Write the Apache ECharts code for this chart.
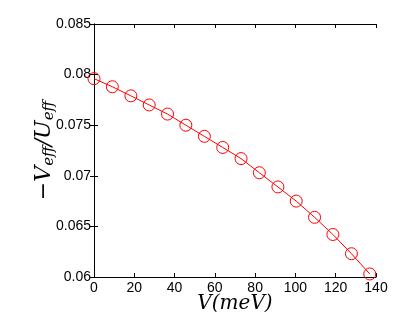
<!DOCTYPE html>
<html><head><meta charset="utf-8">
<script src="https://cdn.jsdelivr.net/npm/echarts@6/dist/echarts.min.js"></script>
<style>html,body{margin:0;padding:0;background:#fff}#c{width:415px;height:312px}</style>
</head><body><div id="c"></div>
<script>
const energies = [0, 9.1, 18.3, 27.4, 36.5, 45.6, 54.8, 63.9, 73.0, 82.1, 91.3, 100.4, 109.5, 118.6, 127.8, 136.9];
const ratios = [0.0796, 0.0788, 0.0779, 0.0770, 0.0761, 0.0750, 0.0739, 0.0728, 0.0717, 0.0703, 0.0689, 0.0675, 0.0659, 0.0642, 0.0623, 0.0603];
const xTicks = [0, 20, 40, 60, 80, 100, 120, 140];
const yTicks = [0.06, 0.065, 0.07, 0.075, 0.08, 0.085];

const chart = echarts.init(document.getElementById('c'), null, {renderer: 'canvas'});
const lab = {color: '#000', fontFamily: 'Liberation Sans, Arial, sans-serif', fontSize: 14};
const axLine = {show: true, lineStyle: {color: '#000', width: 1}};
const tick = {show: true, inside: true, length: 4, lineStyle: {color: '#000', width: 1}};
const mathFont = 'DejaVu Serif, serif';
chart.setOption({
  animation: false,
  backgroundColor: '#fff',
  grid: {left: 94, right: 39, top: 24, bottom: 35, containLabel: false, outerBoundsMode: 'none'},
  xAxis: [{
    type: 'value', min: 0, max: 140, interval: 20, position: 'bottom',
    axisLine: axLine, axisTick: tick, splitLine: {show: false},
    axisLabel: Object.assign({margin: 4, formatter: v => xTicks.includes(v) ? String(v) : ''}, lab),
    name: '{i|V(meV)}', nameLocation: 'middle', nameGap: 17, nameMoveOverlap: false,
    nameTextStyle: {rich: {i: {fontFamily: mathFont, fontStyle: 'italic', fontSize: 20, color: '#000'}}}
  }, {
    type: 'value', min: 0, max: 140, interval: 20, position: 'top',
    axisLine: axLine, axisTick: tick, axisLabel: {show: false}, splitLine: {show: false}
  }],
  yAxis: [{
    type: 'value', min: 0.06, max: 0.085, interval: 0.005, position: 'left',
    axisLine: axLine, axisTick: tick, splitLine: {show: false},
    axisLabel: Object.assign({margin: 3, formatter: v => { const t = yTicks.find(y => Math.abs(y - v) < 1e-9); return t === undefined ? '' : String(+t.toFixed(3)); }}, lab),
    name: '{i|−V}{s|eff}{i|/U}{s|eff}', nameLocation: 'middle', nameGap: 37, nameMoveOverlap: false,
    nameTextStyle: {rich: {
      i: {fontFamily: mathFont, fontStyle: 'italic', fontSize: 22, color: '#000', lineHeight: 26},
      s: {fontFamily: mathFont, fontStyle: 'italic', fontSize: 15, color: '#000', padding: [10, 0, 0, 0], lineHeight: 26}
    }}
  }, {
    type: 'value', min: 0.06, max: 0.085, interval: 0.005, position: 'right',
    axisLine: axLine, axisTick: tick, axisLabel: {show: false}, splitLine: {show: false}
  }],
  series: [{
    type: 'line',
    data: energies.map((e, i) => [e, ratios[i]]),
    symbol: 'circle', symbolSize: 12, showAllSymbol: true,
    lineStyle: {color: '#ff0000', width: 1},
    itemStyle: {color: 'rgba(0,0,0,0)', borderColor: '#ff0000', borderWidth: 1},
    clip: false
  }]
});
</script></body></html>
